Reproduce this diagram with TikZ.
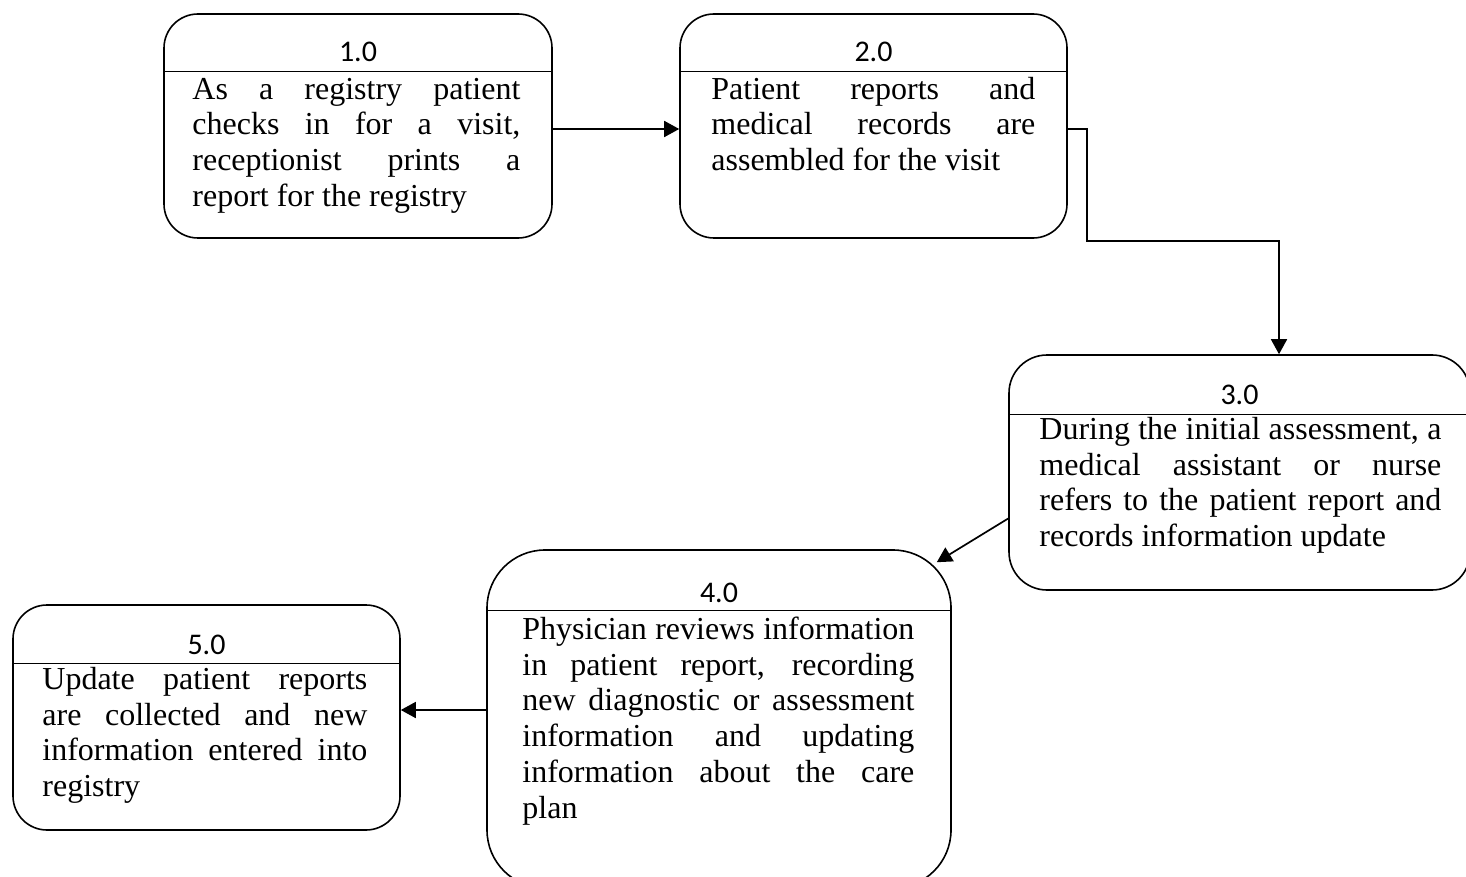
\documentclass[tikz,border=0pt]{standalone}
\usepackage{fontspec}
\setmainfont{Liberation Serif}
\newfontfamily\numfont{Carlito}
\usetikzlibrary{arrows.meta}

\tikzset{
    procbox/.style={draw, line width=1.6pt, rounded corners=34pt, inner sep=0pt},
    numlabel/.style={inner sep=0pt, font=\numfont\fontsize{30pt}{34pt}\selectfont},
    bodytext/.style={inner sep=0pt, align=justify,
        font=\fontsize{32pt}{35.8pt}\selectfont},
    arr/.style={line width=1.7pt, -{Triangle[length=15pt, width=16pt]}}
}

\begin{document}
\begin{tikzpicture}[x=1pt, y=1pt]
    \useasboundingbox (0,0) rectangle (1466,-877);

    % process boxes
    \node[procbox, minimum width=388pt, minimum height=224pt] (b1) at (358,-126) {};
    \node[procbox, minimum width=387pt, minimum height=224pt] (b2) at (873.5,-126) {};
    \node[procbox, minimum width=461pt, minimum height=235pt, rounded corners=38pt] (b3) at (1239.5,-472.5) {};
    \node[procbox, minimum width=464pt, minimum height=338pt, rounded corners=58pt] (b4) at (719,-719) {};
    \node[procbox, minimum width=387pt, minimum height=225pt] (b5) at (206.5,-717.5) {};

    \foreach \b/\d in {b1/58,b2/58,b3/60,b4/61,b5/59}
        \draw[line width=1.3pt] ([yshift=-\d pt]\b.north west) -- ([yshift=-\d pt]\b.north east);

    % numbers
    \node[numlabel, anchor=base] (n1) at ([yshift=-48pt]b1.north) {1.0};
    \node[numlabel, anchor=base] (n2) at ([yshift=-48pt]b2.north) {2.0};
    \node[numlabel, anchor=base] (n3) at ([yshift=-50pt]b3.north) {3.0};
    \node[numlabel, anchor=base] (n4) at ([yshift=-53pt]b4.north) {4.0};
    \node[numlabel, anchor=base] (n5) at ([yshift=-50pt]b5.north) {5.0};

    % texts
    \node[bodytext, text width=328pt, anchor=base west] (t1) at ([xshift=29pt,yshift=-86pt]b1.north west)
        {As a registry patient\linebreak checks in for a visit,\linebreak receptionist prints a\linebreak report for the registry};
    \node[bodytext, text width=324pt, anchor=base west] (t2) at ([xshift=32pt,yshift=-86pt]b2.north west)
        {Patient reports and\linebreak medical records are\linebreak assembled for the visit};
    \node[bodytext, text width=402pt, anchor=base west] (t3) at ([xshift=31pt,yshift=-85pt]b3.north west)
        {During the initial assessment, a\linebreak medical assistant or nurse\linebreak refers to the patient report and\linebreak records information update};
    \node[bodytext, text width=392pt, anchor=base west] (t4) at ([xshift=36pt,yshift=-90pt]b4.north west)
        {Physician reviews information\linebreak in patient report, recording\linebreak new diagnostic or assessment\linebreak information and updating\linebreak information about the care\linebreak plan};
    \node[bodytext, text width=325pt, anchor=base west] (t5) at ([xshift=30pt,yshift=-85pt]b5.north west)
        {Update patient reports\linebreak are collected and new\linebreak information entered into\linebreak registry};

    % flows
    \coordinate (c23) at (1279,-241);
    \draw[arr] ([yshift=-3pt]b1.east) -- ([yshift=-3pt]b2.west);
    \draw[arr] ([yshift=-3pt]b2.east) -- ++(19,0) |- (c23) -- (c23 |- b3.north);
    \draw[arr] ([yshift=-46pt]b3.west) -- ([xshift=-15pt,yshift=-13pt]b4.north east);
    \draw[arr] ([yshift=9pt]b4.west) -- ([yshift=9pt]b4.west -| b5.east);
\end{tikzpicture}
\end{document}
